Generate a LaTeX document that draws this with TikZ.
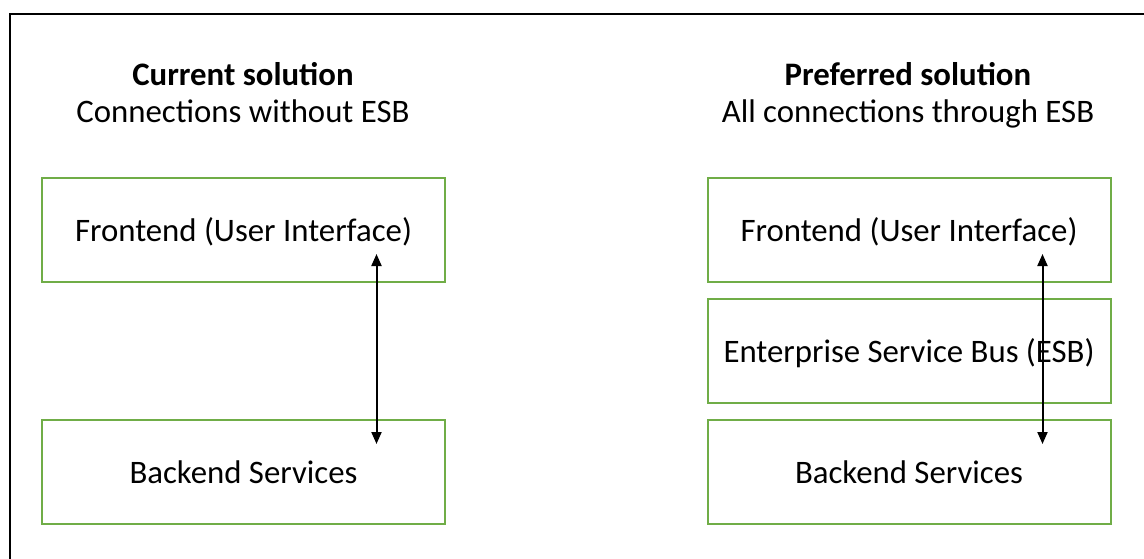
\documentclass[tikz,border=0pt]{standalone}
\usepackage{fontspec}
\setmainfont{Carlito}
\usetikzlibrary{arrows.meta}
\definecolor{boxgreen}{HTML}{70AD47}
\begin{document}
\begin{tikzpicture}[x=1pt,y=-1pt,
  layer/.style={draw=boxgreen,line width=2pt,minimum width=403pt,minimum height=104pt,
    inner sep=0pt,anchor=north west,font=\fontsize{32.8}{38}\selectfont,
    text height=26pt,text depth=4pt},
  heading/.style={font=\fontsize{32.8}{38}\selectfont,inner sep=0pt,
    text height=26pt,text depth=4pt},
  link/.style={line width=2pt,{Triangle[length=12pt,width=10pt]}-{Triangle[length=12pt,width=10pt]}}]
\useasboundingbox (0,0) rectangle (1144,559);
\clip (0,0) rectangle (1144,559);
\fill[white] (0,0) rectangle (1144,559);
\draw[line width=2pt] (9.5,14) rectangle (1160,580);

% left column: direct connection
\node[heading] (curT) at (243,75) {\textbf{Current solution}};
\node[heading] (curS) at (243,112) {Connections without ESB};
\node[layer] (feL) at (41,177) {Frontend (User Interface)};
\node[layer] (beL) at (41,419) {Backend Services};
\coordinate (aL1) at (376.5,254);
\coordinate (aL2) at (376.5,444);
\draw[link] (aL1) -- (aL2);

% right column: everything through the bus
\node[heading] (prefT) at (908,75) {\textbf{Preferred solution}};
\node[heading] (prefS) at (908,112) {All connections through ESB};
\node[layer] (feR) at (706.5,177) {Frontend (User Interface)};
\node[layer] (esb) at (706.5,298) {Enterprise Service Bus (ESB)};
\node[layer] (beR) at (706.5,419) {Backend Services};
\coordinate (aR1) at (1042.5,254);
\coordinate (aR2) at (1042.5,444);
\draw[link] (aR1) -- (aR2);
\end{tikzpicture}
\end{document}
